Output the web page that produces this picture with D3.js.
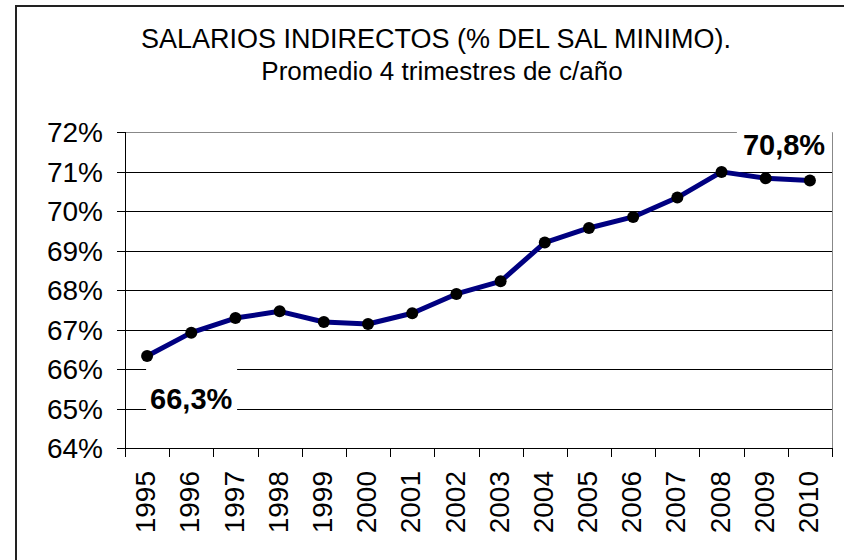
<!DOCTYPE html>
<html>
<head>
<meta charset="utf-8">
<script src="https://cdn.jsdelivr.net/npm/d3@7"></script>
<style>
  body { margin: 0; background: #fff; }
  text { font-family: "Liberation Sans", Arial, sans-serif; }
</style>
</head>
<body>
<svg id="chart" width="844" height="560"></svg>
<script>
const years = ["1995", "1996", "1997", "1998", "1999", "2000", "2001", "2002",
  "2003", "2004", "2005", "2006", "2007", "2008", "2009", "2010"];
const values = [66.33, 66.92, 67.29, 67.46, 67.19, 67.14, 67.41, 67.9,
  68.22, 69.2, 69.57, 69.85, 70.34, 70.99, 70.83, 70.77];
const yTicks = [64, 65, 66, 67, 68, 69, 70, 71, 72];
const titleLines = ["SALARIOS INDIRECTOS (% DEL SAL MINIMO).", "Promedio 4 trimestres de c/año"];

const svg = d3.select("#chart");

const plotLeft = 125, plotRight = 832, plotTop = 132, plotBottom = 448;

const x = d3.scaleBand().domain(years).range([plotLeft, plotRight]);
const y = d3.scaleLinear().domain([64, 72]).range([plotBottom, plotTop]);
const cx = (d) => x(d) + x.bandwidth() / 2;

// outer frame
svg.append("path")
  .attr("d", `M16,560 V6 H844`)
  .attr("fill", "none")
  .attr("stroke", "#222")
  .attr("stroke-width", 2);

// titles
svg.append("text")
  .attr("x", 436).attr("y", 48)
  .attr("text-anchor", "middle")
  .style("font-size", "27px")
  .text(titleLines[0]);
svg.append("text")
  .attr("x", 442).attr("y", 80)
  .attr("text-anchor", "middle")
  .style("font-size", "26px")
  .text(titleLines[1]);

// gridlines
svg.append("g")
  .selectAll("line")
  .data(yTicks.slice(1, -1))
  .join("line")
  .attr("x1", plotLeft).attr("x2", plotRight)
  .attr("y1", (d) => Math.round(y(d)) + 0.5)
  .attr("y2", (d) => Math.round(y(d)) + 0.5)
  .attr("stroke", "#000");

// plot border (top and right, gray)
svg.append("path")
  .attr("d", `M${plotLeft},${plotTop + 0.5} H${plotRight + 0.5} V${plotBottom}`)
  .attr("fill", "none")
  .attr("stroke", "#888");

// y axis
const fmt = (d) => d + "%";
const yAxis = svg.append("g");
yAxis.append("line")
  .attr("x1", plotLeft + 0.5).attr("x2", plotLeft + 0.5)
  .attr("y1", plotTop).attr("y2", plotBottom + 1)
  .attr("stroke", "#000");
yAxis.selectAll("line.tick")
  .data(yTicks)
  .join("line")
  .attr("class", "tick")
  .attr("x1", plotLeft - 8).attr("x2", plotLeft)
  .attr("y1", (d) => Math.round(y(d)) + 0.5)
  .attr("y2", (d) => Math.round(y(d)) + 0.5)
  .attr("stroke", "#000");
yAxis.selectAll("text")
  .data(yTicks)
  .join("text")
  .attr("x", 103)
  .attr("y", (d) => y(d))
  .attr("dy", "0.36em")
  .attr("text-anchor", "end")
  .style("font-size", "28px")
  .text(fmt);

// x axis
const xAxis = svg.append("g");
xAxis.append("line")
  .attr("x1", plotLeft).attr("x2", plotRight + 1)
  .attr("y1", plotBottom + 0.5).attr("y2", plotBottom + 0.5)
  .attr("stroke", "#000");
xAxis.selectAll("line.tick")
  .data(years.concat(["end"]))
  .join("line")
  .attr("class", "tick")
  .attr("x1", (d) => Math.round(d === "end" ? plotRight : x(d)) + 0.5)
  .attr("x2", (d) => Math.round(d === "end" ? plotRight : x(d)) + 0.5)
  .attr("y1", plotBottom).attr("y2", plotBottom + 9)
  .attr("stroke", "#000");
xAxis.selectAll("text")
  .data(years)
  .join("text")
  .attr("transform", (d) => `translate(${cx(d) - 2},471) rotate(-90)`)
  .attr("dy", "0.36em")
  .attr("text-anchor", "end")
  .style("font-size", "28px")
  .text((d) => d);

// line series
const line = d3.line()
  .x((d, i) => cx(years[i]))
  .y((d) => y(d));

svg.append("path")
  .datum(values)
  .attr("d", line)
  .attr("fill", "none")
  .attr("stroke", "#000080")
  .attr("stroke-width", 5)
  .attr("stroke-linejoin", "round");

svg.append("g")
  .selectAll("circle")
  .data(values)
  .join("circle")
  .attr("cx", (d, i) => cx(years[i]))
  .attr("cy", (d) => y(d))
  .attr("r", 6)
  .attr("fill", "#000");

// value labels on first and last points
const lbl = (v) => d3.format(".1f")(v).replace(".", ",") + "%";
const labels = [
  { i: 0, dx: -1, dy: 11, w: 91, h: 47, tx: 4, ty: 42 },
  { i: values.length - 1, dx: -73, dy: -52, w: 95, h: 30, tx: 6, ty: 26 }
];
labels.forEach((l) => {
  const px = cx(years[l.i]), py = y(values[l.i]);
  svg.append("rect")
    .attr("x", px + l.dx).attr("y", py + l.dy)
    .attr("width", l.w).attr("height", l.h)
    .attr("fill", "#fff");
  svg.append("text")
    .attr("x", px + l.dx + l.tx).attr("y", py + l.dy + l.ty)
    .style("font-size", "29px")
    .style("font-weight", "bold")
    .text(lbl(values[l.i]));
});
</script>
</body>
</html>
